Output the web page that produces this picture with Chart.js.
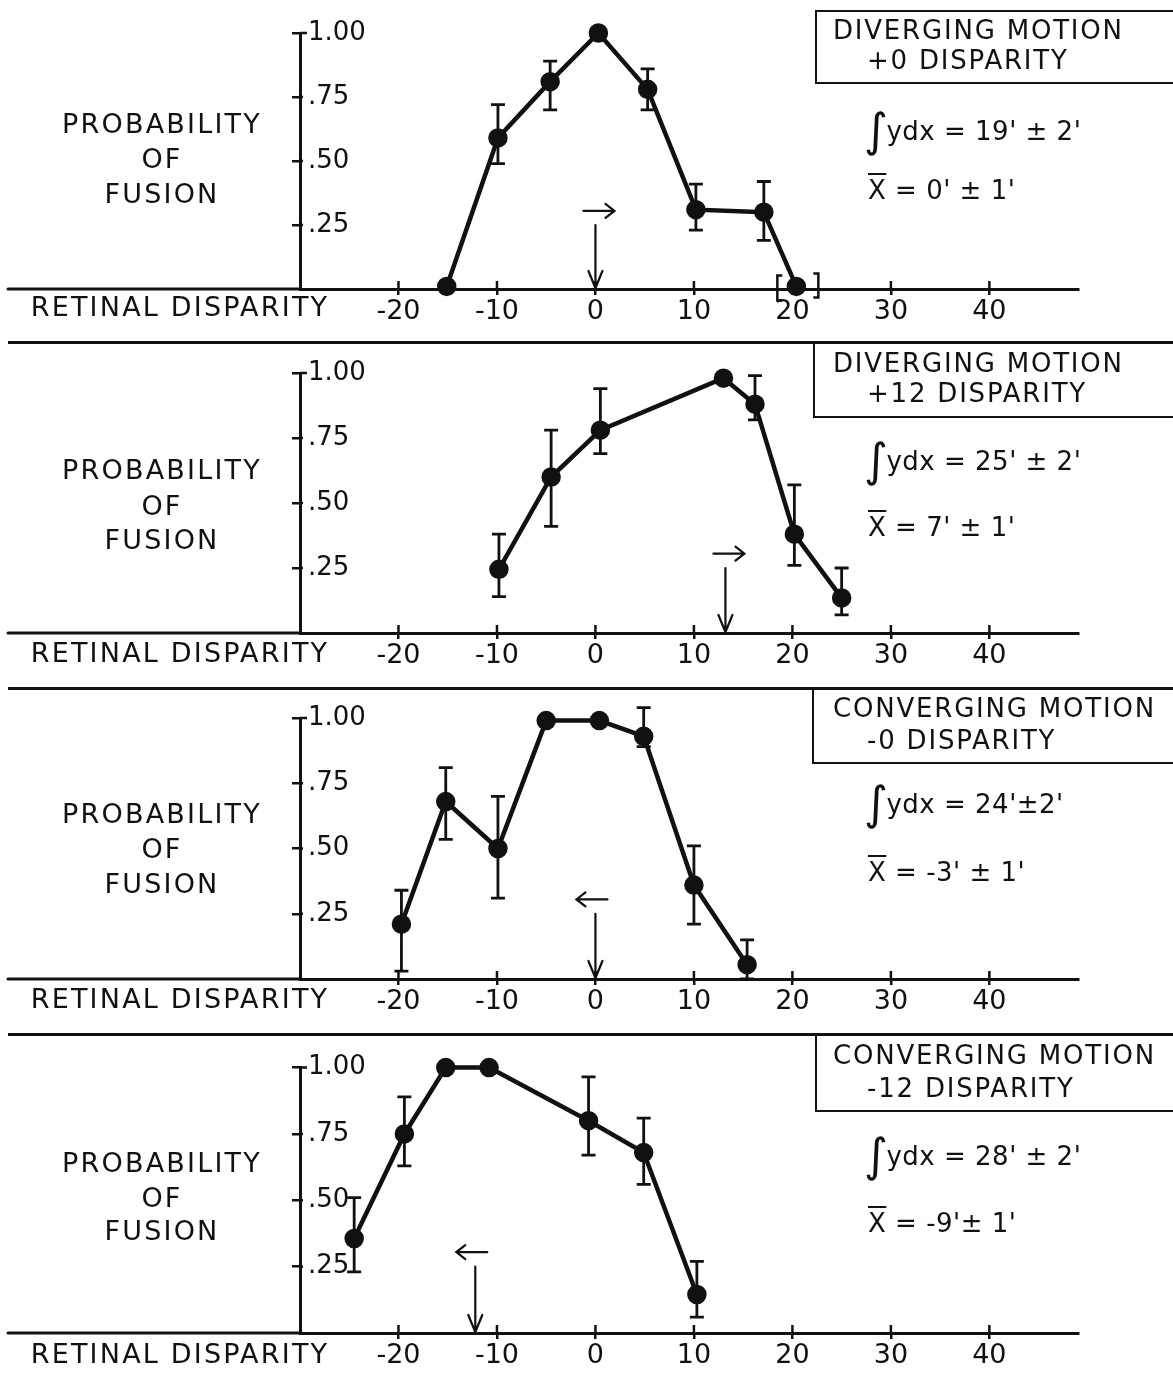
<!DOCTYPE html>
<html lang="en">
<head>
    <meta charset="UTF-8">
    <title>Probability of fusion vs retinal disparity</title>
    <style>
        body {
            margin: 0;
            padding: 0;
            background-color: #fff;
            font-family: "DejaVu Sans", sans-serif;
            color: #111;
        }

        #page {
            position: relative;
            width: 1173px;
            height: 1374px;
            overflow: hidden;
        }

        canvas {
            position: absolute;
            left: 0;
        }

        .txt {
            position: absolute;
            line-height: 1;
            white-space: nowrap;
            transform: translateY(-50%);
            z-index: 2;
        }

        .ylab {
            font-size: 27px;
            letter-spacing: 2.2px;
            transform: translate(-50%, -50%);
        }

        .title {
            font-size: 26px;
            letter-spacing: 1.8px;
        }

        .stat {
            font-size: 26px;
            letter-spacing: 0.5px;
        }

        .stat .int {
            font-size: 46px;
            vertical-align: -6px;
            margin-right: -2px;
        }

        .stat .bar {
            text-decoration: overline;
        }

        .box {
            position: absolute;
            right: 0;
            border-top: 2px solid #111;
            border-left: 2px solid #111;
            border-bottom: 2px solid #111;
            z-index: 1;
        }

        .rule {
            position: absolute;
            left: 8px;
            right: 0;
            height: 3px;
            background: #111;
            z-index: 1;
        }
    </style>
</head>
<body>
    <div id="page"></div>

    <script src="https://cdn.jsdelivr.net/npm/chart.js"></script>
    <script>
        // tick labels
        var xTickValues = [-20, -10, 0, 10, 20, 30, 40];
        var yTickValues = [0.25, 0.5, 0.75, 1];
        var yTickText = ['.25', '.50', '.75', '1.00'];

        // diverging motion, +0 disparity
        var div0X = [-15.1, -9.9, -4.6, 0.3, 5.3, 10.2, 17.1, 20.4];
        var div0Y = [0.01, 0.59, 0.81, 1.0, 0.78, 0.31, 0.30, 0.01];
        var div0Hi = [null, 0.72, 0.89, null, 0.86, 0.41, 0.42, null];
        var div0Lo = [null, 0.49, 0.70, null, 0.70, 0.23, 0.19, null];

        // diverging motion, +12 disparity
        var div12X = [-9.8, -4.5, 0.5, 13.0, 16.2, 20.2, 25.0];
        var div12Y = [0.245, 0.60, 0.78, 0.98, 0.88, 0.38, 0.135];
        var div12Hi = [0.38, 0.78, 0.94, null, 0.99, 0.57, 0.25];
        var div12Lo = [0.14, 0.41, 0.69, null, 0.82, 0.26, 0.07];

        // converging motion, -0 disparity
        var conv0X = [-19.7, -15.2, -9.9, -5.0, 0.4, 4.9, 10.0, 15.4];
        var conv0Y = [0.21, 0.68, 0.50, 0.99, 0.99, 0.93, 0.36, 0.055];
        var conv0Hi = [0.34, 0.81, 0.70, null, null, 1.04, 0.51, 0.15];
        var conv0Lo = [0.03, 0.535, 0.31, null, null, 0.89, 0.21, 0.0];

        // converging motion, -12 disparity
        var conv12X = [-24.5, -19.4, -15.2, -10.8, -0.7, 4.9, 10.3];
        var conv12Y = [0.356, 0.75, 1.0, 1.0, 0.80, 0.68, 0.145];
        var conv12Hi = [0.51, 0.89, null, null, 0.965, 0.81, 0.27];
        var conv12Lo = [0.23, 0.63, null, null, 0.67, 0.56, 0.06];

        var panelTitles = [
            ['DIVERGING MOTION', '+0 DISPARITY'],
            ['DIVERGING MOTION', '+12 DISPARITY'],
            ['CONVERGING MOTION', '-0 DISPARITY'],
            ['CONVERGING MOTION', '-12 DISPARITY']
        ];
        var integrals = ["19' \u00b1 2'", "25' \u00b1 2'", "24'\u00b12'", "28' \u00b1 2'"];
        var means = ["0' \u00b1 1'", "7' \u00b1 1'", "-3' \u00b1 1'", "-9'\u00b1 1'"];
        var meanArrowX = [0, 13.2, 0, -12.2];
        var arrowDir = [1, 1, -1, -1];
        var bracketed = [[7], [], [], []];

        var panels = [
            { x: div0X, y: div0Y, hi: div0Hi, lo: div0Lo },
            { x: div12X, y: div12Y, hi: div12Hi, lo: div12Lo },
            { x: conv0X, y: conv0Y, hi: conv0Hi, lo: conv0Lo },
            { x: conv12X, y: conv12Y, hi: conv12Hi, lo: conv12Lo }
        ];

        // where each panel sits on the page
        var layout = [
            { top: 0, padTop: 33, boxTop: 10, boxLeft: 815, boxH: 70, l1: 30, l2: 60, intY: 130, meanY: 190, yl: [123, 158, 193], xl: 306 },
            { top: 344, padTop: 29, boxTop: 342, boxLeft: 813, boxH: 72, l1: 363, l2: 393, intY: 460, meanY: 527, yl: [469, 505, 539], xl: 652 },
            { top: 690, padTop: 28, boxTop: 688, boxLeft: 812, boxH: 72, l1: 708, l2: 740, intY: 803, meanY: 872, yl: [813, 848, 883], xl: 998 },
            { top: 1044, padTop: 23, boxTop: 1034, boxLeft: 815, boxH: 74, l1: 1055, l2: 1088, intY: 1155, meanY: 1223, yl: [1162, 1197, 1230], xl: 1353 }
        ];
        var ruleTops = [341, 687, 1033];

        var ink = '#111';
        var page = document.getElementById('page');

        function addText(cls, left, top, html) {
            var d = document.createElement('div');
            d.className = 'txt ' + cls;
            d.style.left = left + 'px';
            d.style.top = top + 'px';
            d.innerHTML = html;
            page.appendChild(d);
        }

        // error bars, mean arrows, the baseline running under the axis label
        var extras = {
            id: 'extras',
            beforeDatasetsDraw: function(chart, args, opts) {
                var ctx = chart.ctx;
                var xs = chart.scales.x, ys = chart.scales.y;
                var p = opts.panel;
                ctx.save();
                ctx.strokeStyle = ink;
                ctx.lineWidth = 2.8;
                ctx.beginPath();
                for (var i = 0; i < p.x.length; i++) {
                    if (p.hi[i] == null) continue;
                    var px = xs.getPixelForValue(p.x[i]);
                    var t = ys.getPixelForValue(p.hi[i]);
                    var b = ys.getPixelForValue(p.lo[i]);
                    ctx.moveTo(px, t); ctx.lineTo(px, b);
                    ctx.moveTo(px - 7, t); ctx.lineTo(px + 7, t);
                    ctx.moveTo(px - 7, b); ctx.lineTo(px + 7, b);
                }
                ctx.stroke();
                ctx.restore();
            },
            afterDraw: function(chart, args, opts) {
                var ctx = chart.ctx;
                var xs = chart.scales.x, ys = chart.scales.y;
                var base = ys.getPixelForValue(0);
                var left = chart.chartArea.left;
                ctx.save();
                ctx.strokeStyle = ink;
                ctx.lineCap = 'round';

                // axis line continued to the left edge
                ctx.lineWidth = 3;
                ctx.beginPath();
                ctx.moveTo(8, base);
                ctx.lineTo(left, base);
                ctx.stroke();

                // tick marks crossing the axes
                ctx.lineWidth = 2.5;
                ctx.lineCap = 'butt';
                ctx.beginPath();
                xs.ticks.forEach(function(t) {
                    var px = xs.getPixelForValue(t.value);
                    ctx.moveTo(px, base - 8);
                    ctx.lineTo(px, base);
                });
                ys.ticks.forEach(function(t) {
                    var py = ys.getPixelForValue(t.value);
                    ctx.moveTo(left, py);
                    ctx.lineTo(left + (t.value === 1 ? 7 : 3), py);
                });
                ctx.stroke();

                // mean arrow
                var ax = xs.getPixelForValue(opts.meanX);
                var aTop = ys.getPixelForValue(0.25);
                ctx.lineCap = 'round';
                ctx.lineWidth = 2.2;
                ctx.beginPath();
                ctx.moveTo(ax, aTop);
                ctx.lineTo(ax, base - 1);
                ctx.moveTo(ax - 7, base - 18);
                ctx.lineTo(ax, base - 1);
                ctx.lineTo(ax + 7, base - 18);
                var hy = ys.getPixelForValue(0.305);
                var x1 = ax - 12, x2 = ax + 19;
                if (opts.dir < 0) { x1 = ax - 19; x2 = ax + 12; }
                ctx.moveTo(x1, hy);
                ctx.lineTo(x2, hy);
                var tip = opts.dir > 0 ? x2 : x1;
                ctx.moveTo(tip - 9 * opts.dir, hy - 7);
                ctx.lineTo(tip, hy);
                ctx.lineTo(tip - 9 * opts.dir, hy + 7);
                ctx.stroke();

                // brackets round a point
                ctx.lineWidth = 2.5;
                ctx.lineCap = 'butt';
                opts.bracket.forEach(function(i) {
                    var px = xs.getPixelForValue(opts.panel.x[i]);
                    var py = ys.getPixelForValue(opts.panel.y[i]);
                    ctx.beginPath();
                    ctx.moveTo(px - 14, py - 11); ctx.lineTo(px - 19, py - 11);
                    ctx.lineTo(px - 19, py + 14); ctx.lineTo(px - 14, py + 14);
                    ctx.moveTo(px + 17, py - 13); ctx.lineTo(px + 22, py - 13);
                    ctx.lineTo(px + 22, py + 11); ctx.lineTo(px + 17, py + 11);
                    ctx.stroke();
                });
                ctx.restore();
            }
        };

        panels.forEach(function(p, k) {
            var L = layout[k];
            var cv = document.createElement('canvas');
            cv.width = 1173;
            cv.height = 340;
            cv.style.top = L.top + 'px';
            page.appendChild(cv);

            var pts = p.x.map(function(v, i) { return { x: v, y: p.y[i] }; });

            new Chart(cv.getContext('2d'), {
                type: 'scatter',
                data: {
                    datasets: [{
                        data: pts,
                        showLine: true,
                        borderColor: ink,
                        backgroundColor: ink,
                        borderWidth: 4.5,
                        pointRadius: 7.5,
                        pointHoverRadius: 7.5,
                        clip: false
                    }]
                },
                options: {
                    responsive: false,
                    animation: false,
                    events: [],
                    layout: { padding: { left: 292, right: 95, top: L.padTop, bottom: 0 } },
                    plugins: {
                        legend: { display: false },
                        tooltip: { enabled: false },
                        extras: { panel: p, meanX: meanArrowX[k], dir: arrowDir[k], bracket: bracketed[k] }
                    },
                    scales: {
                        x: {
                            type: 'linear',
                            min: -30,
                            max: 49,
                            afterFit: function(s) { s.height = 51; },
                            afterBuildTicks: function(s) {
                                s.ticks = xTickValues.map(function(v) { return { value: v }; });
                            },
                            ticks: {
                                color: ink,
                                padding: 1,
                                maxRotation: 0,
                                autoSkip: false,
                                font: { family: 'DejaVu Sans', size: 27 },
                                callback: function(v) { return String(v); }
                            },
                            grid: { drawOnChartArea: false, tickLength: 6, color: ink, lineWidth: 2.5 },
                            border: { color: ink, width: 3 }
                        },
                        y: {
                            min: 0,
                            max: 1,
                            afterFit: function(s) { s.width = 8; },
                            afterBuildTicks: function(s) {
                                s.ticks = yTickValues.map(function(v) { return { value: v }; });
                            },
                            ticks: {
                                color: ink,
                                mirror: true,
                                padding: 8,
                                font: { family: 'DejaVu Sans', size: 26 },
                                callback: function(v) {
                                    var i = yTickValues.indexOf(v);
                                    return i < 0 ? null : yTickText[i];
                                }
                            },
                            grid: { drawOnChartArea: false, tickLength: 8, color: ink, lineWidth: 2.5 },
                            border: { color: ink, width: 3 }
                        }
                    }
                },
                plugins: [extras]
            });

            // title box and text
            var box = document.createElement('div');
            box.className = 'box';
            box.style.left = L.boxLeft + 'px';
            box.style.top = L.boxTop + 'px';
            box.style.height = L.boxH + 'px';
            page.appendChild(box);

            addText('title', 833, L.l1, panelTitles[k][0]);
            addText('title', 867, L.l2, panelTitles[k][1]);
            addText('stat', 864, L.intY, '<span class="int">\u222b</span>ydx = ' + integrals[k]);
            addText('stat', 868, L.meanY, '<span class="bar">X</span> = ' + means[k]);

            addText('ylab', 162, L.yl[0], 'PROBABILITY');
            addText('ylab', 162, L.yl[1], 'OF');
            addText('ylab', 162, L.yl[2], 'FUSION');
            addText('ylab', 180, L.xl, 'RETINAL DISPARITY');
        });

        ruleTops.forEach(function(t) {
            var r = document.createElement('div');
            r.className = 'rule';
            r.style.top = t + 'px';
            page.appendChild(r);
        });
    </script>
</body>
</html>
